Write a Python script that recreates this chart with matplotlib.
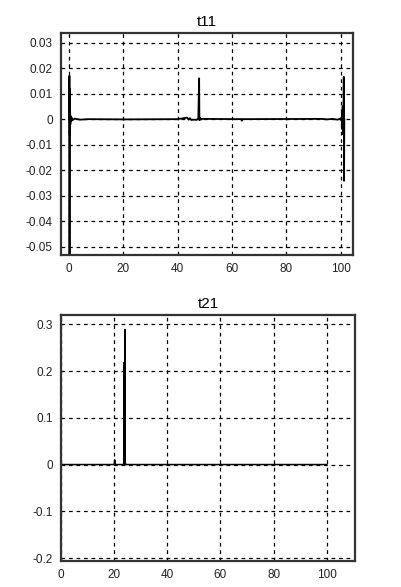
import matplotlib.pyplot as plt

plt.rcParams['font.family'] = ['Liberation Sans', 'DejaVu Sans']

# t11 trace
t11_x = [0.0, 0.1, 0.15, 0.2, 0.25, 0.35, 0.45, 0.6, 0.8, 1.0, 1.4, 2.0, 4.0, 7.0,
         20.0, 40.0, 43.5, 44.0, 44.5, 45.0, 46.0, 47.0, 47.6, 47.9, 48.0, 48.2,
         48.6, 49.0, 63.4, 63.6, 63.8, 93.0, 95.0, 97.0, 99.0, 100.0, 100.4,
         100.6, 100.7, 100.8, 100.9, 101.0, 101.1, 101.2, 101.3, 101.4]
t11_y = [0.0, 0.017, -0.056, 0.012, -0.006, 0.004, -0.002, 0.0012, -0.0008, 0.0005,
         -0.0003, 0.0002, -0.0002, 0.0,
         -0.0001, 0.0, 0.0006, -0.0002, 0.0004, -0.0003, -0.0002, -0.0003, 0.0004,
         0.016, -0.0004, 0.0006, -0.0002, 0.0001, 0.0, -0.0006, 0.0, 0.0001,
         -0.0001, 0.0001, -0.0002, 0.0003, -0.0006, 0.003, -0.004, 0.005,
         -0.006, 0.004, -0.005, 0.0166, -0.0242, 0.0]

# t21 trace
t21_x = [0.0, 20.0, 20.2, 20.4, 20.6, 23.6, 23.7, 23.75, 23.8, 23.85, 23.9, 24.0,
         24.05, 24.1, 24.2, 24.4, 100.0]
t21_y = [0.0, 0.0, 0.01, 0.0, 0.0, 0.0, 0.218, 0.0, 0.216, 0.0, 0.214, 0.0,
         0.289, 0.0, 0.003, 0.0, 0.0]

t11_yticks = [0.03, 0.02, 0.01, 0, -0.01, -0.02, -0.03, -0.04, -0.05]
t11_ylabels = ['0.03', '0.02', '0.01', '0', '-0.01', '-0.02', '-0.03', '-0.04', '-0.05']
t21_yticks = [0.3, 0.2, 0.1, 0, -0.1, -0.2]
t21_ylabels = ['0.3', '0.2', '0.1', '0', '-0.1', '-0.2']
xticks = [0, 20, 40, 60, 80, 100]

fig = plt.figure(figsize=(4.02, 5.87), dpi=100)
W, H = 402, 587

ax1 = fig.add_axes([61 / W, 1 - 255 / H, 292 / W, 222 / H])
ax2 = fig.add_axes([61 / W, 1 - 561 / H, 294 / W, 246 / H])


def style(ax):
    for s in ax.spines.values():
        s.set_linewidth(1.6)
        s.set_color('#333333')
    ax.grid(True, color='black', linestyle=(0, (3, 3)), linewidth=0.9)
    ax.tick_params(length=0, labelsize=8.5, colors='#222222', pad=6)


ax1.plot(t11_x, t11_y, color='black', linewidth=1.3)
ax1.set_xlim(-3, 104.6)
ax1.set_ylim(-0.0533, 0.0338)
ax1.set_xticks(xticks)
ax1.set_yticks(t11_yticks)
ax1.set_yticklabels(t11_ylabels)
ax1.set_title('t11', fontsize=11, pad=5)
style(ax1)

ax2.plot(t21_x, t21_y, color='black', linewidth=1.1)
ax2.set_xlim(0, 110.6)
ax2.set_ylim(-0.2064, 0.32)
ax2.set_xticks(xticks)
ax2.set_yticks(t21_yticks)
ax2.set_yticklabels(t21_ylabels)
ax2.set_title('t21', fontsize=11, pad=5)
style(ax2)

fig.savefig('out.png', dpi=100)
